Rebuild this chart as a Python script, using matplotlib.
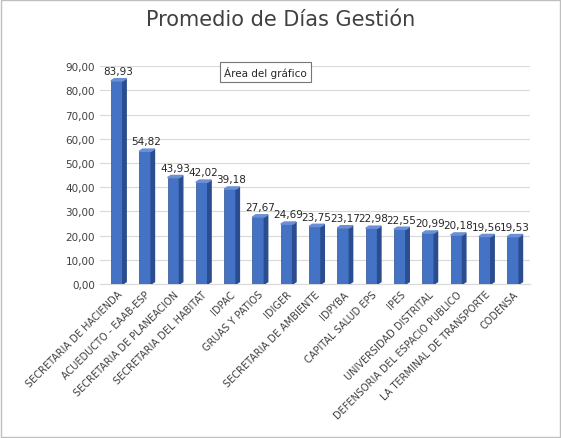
import matplotlib
matplotlib.use("Agg")
import matplotlib.pyplot as plt
from matplotlib.patches import Polygon, Rectangle

categories = ["SECRETARIA DE HACIENDA", "ACUEDUCTO - EAAB-ESP", "SECRETARIA DE PLANEACION",
              "SECRETARIA DEL HABITAT", "IDPAC", "GRUAS Y PATIOS", "IDIGER",
              "SECRETARIA DE AMBIENTE", "IDPYBA", "CAPITAL SALUD EPS", "IPES",
              "UNIVERSIDAD DISTRITAL", "DEFENSORIA DEL ESPACIO PUBLICO",
              "LA TERMINAL DE TRANSPORTE", "CODENSA"]
values = [83.93, 54.82, 43.93, 42.02, 39.18, 27.67, 24.69, 23.75, 23.17, 22.98, 22.55,
          20.99, 20.18, 19.56, 19.53]
yticks = [0, 10, 20, 30, 40, 50, 60, 70, 80, 90]

fig = plt.figure(figsize=(5.61, 4.39), dpi=100)
fig.patches.append(Rectangle((0.002, 0.002), 0.996, 0.996, transform=fig.transFigure,
                             fill=False, edgecolor="#bfbfbf", lw=1))
ax = fig.add_axes([0.178, 0.351, 0.767, 0.496])
x = list(range(len(values)))
w = 0.42
ax.bar(x, values, width=w, color="#4472c4", edgecolor="#2f528f", lw=0.5, zorder=3)
dx, dy = 0.12, 0.9
for xi, v in zip(x, values):
    r = xi + w / 2
    ax.add_patch(Polygon([(r, 0), (r + dx, dy), (r + dx, v + dy), (r, v)],
                         closed=True, color="#2a4d8f", zorder=3))
    ax.add_patch(Polygon([(r - w, v), (r - w + dx, v + dy), (r + dx, v + dy), (r, v)],
                         closed=True, color="#6a8fd6", zorder=3))
    ax.text(xi + 0.05, v + 2.0, f"{v:.2f}".replace(".", ","), ha="center", va="bottom",
            fontsize=7.5, color="#262626", zorder=4)
ax.set_xlim(-0.6, len(values) - 0.4)
ax.set_ylim(0, 90)
ax.set_yticks(yticks)
ax.set_yticklabels([f"{t:.2f}".replace(".", ",") for t in yticks], fontsize=7.5, color="#404040")
ax.set_xticks(x)
ax.set_xticklabels(categories, rotation=45, ha="right", rotation_mode="anchor",
                   fontsize=7, color="#404040")
ax.tick_params(length=0)
ax.grid(axis="y", color="#d9d9d9", lw=0.8, zorder=0)
for s in ["top", "right", "left"]:
    ax.spines[s].set_visible(False)
ax.spines["bottom"].set_color("#d9d9d9")
fig.text(0.5, 0.955, "Promedio de Días Gestión", ha="center", va="center",
         fontsize=15, color="#404040")
fig.text(0.473, 0.833, "Área del gráfico", ha="center", va="center", fontsize=7.5,
         color="#262626", bbox=dict(boxstyle="square,pad=0.4", fc="white", ec="#767676", lw=0.8))
fig.savefig("out.png", dpi=100)
